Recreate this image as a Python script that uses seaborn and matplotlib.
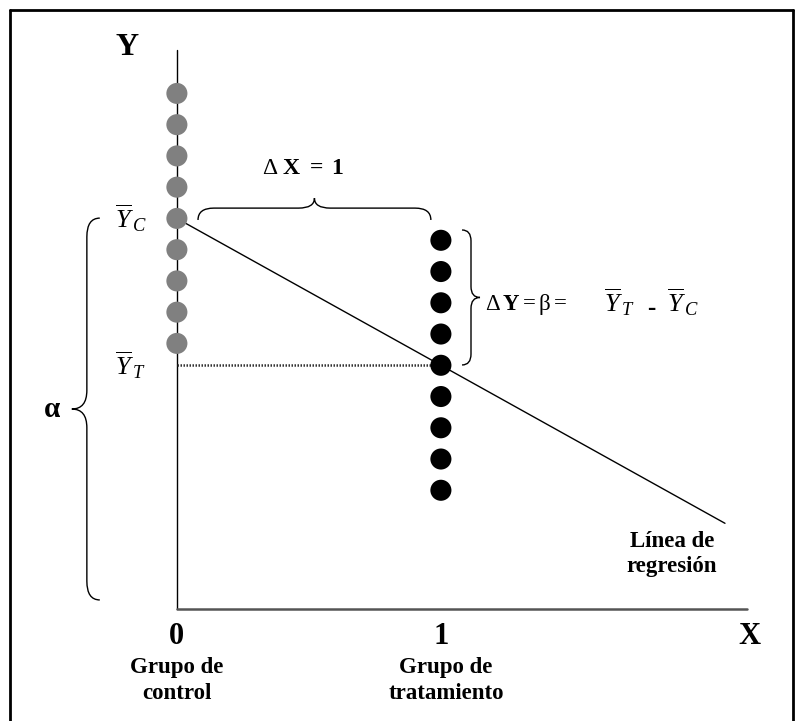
import numpy as np
import pandas as pd
import matplotlib
matplotlib.use("Agg")
import matplotlib.pyplot as plt
from matplotlib.path import Path
from matplotlib.patches import PathPatch
from matplotlib.lines import Line2D
import seaborn as sns

# Datos del diagrama (unidades de Y arbitrarias, X = grupo)
control_x = [0] * 9
control_y = [16.5, 15.5, 14.5, 13.5, 12.5, 11.5, 10.5, 9.5, 8.5]
treat_x = [1] * 9
treat_y = [11.8, 10.8, 9.8, 8.8, 7.8, 6.8, 5.8, 4.8, 3.8]
group_labels = ["control", "tratamiento"]
tick_labels = ["0", "1"]
group_names = ["Grupo de\ncontrol", "Grupo de\ntratamiento"]

df = pd.DataFrame({
    "x": control_x + treat_x,
    "y": control_y + treat_y,
    "grupo": [group_labels[0]] * 9 + [group_labels[1]] * 9,
})

y_c = np.mean(control_y)
y_t = np.mean(treat_y)
beta = y_t - y_c
x_end = 2.076
x_axis_end = 2.159
y_axis_top = 17.9

sns.set_theme(style="white")
plt.rcParams["font.family"] = ["Liberation Serif", "DejaVu Serif"]
plt.rcParams["text.color"] = "black"
plt.rcParams["mathtext.fontset"] = "custom"
plt.rcParams["mathtext.rm"] = "Liberation Serif"
plt.rcParams["mathtext.it"] = "Liberation Serif:italic"
plt.rcParams["mathtext.bf"] = "Liberation Serif:bold"

fig = plt.figure(figsize=(7.96, 7.21), dpi=100)
ax = fig.add_axes([0, 0, 1, 1])

# ejes
ax.plot([0, 0], [0, y_axis_top], color="black", lw=1.0, zorder=1)
ax.plot([0, x_axis_end], [0, 0], color="#555555", lw=1.8, zorder=1)

# linea punteada en Y_T
ax.plot([0, 1], [y_t, y_t], color="#333333", lw=1.8, ls=(0, (0.6, 0.6)), zorder=1)

# linea de regresion
sns.lineplot(x=[0, x_end], y=[y_c, y_c + beta * x_end], color="black", lw=1.0,
             ax=ax, zorder=2)

# puntos
sns.scatterplot(data=df, x="x", y="y", hue="grupo",
                palette={"control": "#808080", "tratamiento": "black"},
                s=230, edgecolor="none", legend=False, ax=ax, zorder=3)
ax.set_xlim(-0.670, 2.345)
ax.set_ylim(-3.584, 19.49)
ax.axis("off")


def brace(a0, a1, pe, ps, pt, q, vertical=False):
    am = (a0 + a1) / 2
    pts = [(a0, pe), (a0, ps), (a0 + q, ps), (am - q, ps), (am, ps), (am, pt),
           (am, ps), (am + q, ps), (a1 - q, ps), (a1, ps), (a1, pe)]
    codes = [Path.MOVETO, Path.CURVE3, Path.CURVE3, Path.LINETO, Path.CURVE3,
             Path.CURVE3, Path.CURVE3, Path.CURVE3, Path.LINETO, Path.CURVE3,
             Path.CURVE3]
    if vertical:
        pts = [(p, a) for a, p in pts]
    ax.add_patch(PathPatch(Path(pts, codes), fill=False, lw=1.0,
                           edgecolor="black", zorder=2))


brace(0.08, 0.962, 12.45, 12.83, 13.15, 0.06)
brace(7.81, 12.13, 1.08, 1.114, 1.148, 0.35, vertical=True)
brace(0.29, 12.51, -0.292, -0.341, -0.398, 0.6, vertical=True)

# textos
ax.text(-0.189, 17.98, "Y", fontsize=23, fontweight="bold", ha="center", va="center")
ax.text(-0.235, 12.5, r"$\overline{Y}_{\,C}$", fontsize=19, ha="left", va="center")
ax.text(-0.235, 7.8, r"$\overline{Y}_{\,T}$", fontsize=19, ha="left", va="center")
ax.text(-0.473, 6.37, r"$\mathbf{\alpha}$", fontsize=21, ha="center", va="center")
ax.text(0.477, 14.11, r"$\Delta\ \mathbf{X\ =\ 1}$", fontsize=17, ha="center", va="center")

# Delta Y = beta = Y_T - Y_C
ax.text(1.167, 9.74, r"$\Delta\,\mathbf{Y} = \mathrm{\beta} =$", fontsize=16.5,
        ha="left", va="center")
ax.text(1.617, 9.82, r"$\overline{Y}_{\,T}$", fontsize=19, ha="left", va="center")
ax.text(1.795, 9.62, "-", fontsize=18, fontweight="bold", ha="center", va="center")
ax.text(1.856, 9.82, r"$\overline{Y}_{\,C}$", fontsize=19, ha="left", va="center")

ax.text(1.875, 1.76, "Línea de\nregresión", fontsize=16.5, fontweight="bold",
        ha="center", va="center", linespacing=1.3)

for gx, lab in zip([0, 1], tick_labels):
    ax.text(gx, -0.864, lab, fontsize=22, fontweight="bold", ha="center", va="center")
ax.text(2.167, -0.864, "X", fontsize=22, fontweight="bold", ha="center", va="center")
for gx, name in zip([0, 1.02], group_names):
    ax.text(gx, -2.3, name, fontsize=16.5, fontweight="bold", ha="center",
            va="center", linespacing=1.3)

# marco
for xs, ys in [([0.0126, 0.0126], [0, 0.9861]), ([0.0126, 0.996], [0.9861, 0.9861]),
               ([0.996, 0.996], [0.9861, 0])]:
    fig.add_artist(Line2D(xs, ys, transform=fig.transFigure, color="black", lw=2.0))

fig.savefig("out.png", dpi=100)
